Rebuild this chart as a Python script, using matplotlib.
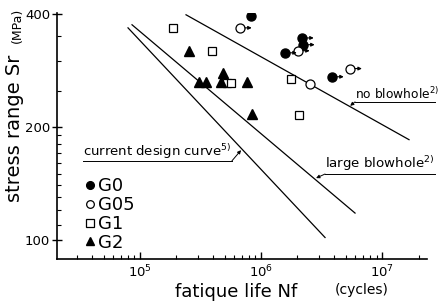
import numpy as np
import matplotlib
matplotlib.use("Agg")
import matplotlib.pyplot as plt
from matplotlib.ticker import FixedLocator, NullFormatter, LogLocator

# data (N in cycles, Sr in MPa)
g0_n = [8.26e5, 2.18e6, 2.22e6, 1.58e6, 3.86e6]
g0_s = [395, 345, 331, 315, 272]
g0_runout = [False, True, True, True, True]

g05_n = [6.70e5, 2.02e6, 5.45e6, 2.54e6]
g05_s = [367, 319, 286, 260]
g05_runout = [True, True, True, False]

g1_n = [1.87e5, 3.94e5, 5.24e5, 5.65e5, 1.77e6, 2.06e6]
g1_s = [367, 319, 262, 262, 268, 215]

g2_n = [2.54e5, 3.08e5, 3.51e5, 4.67e5, 4.85e5, 7.66e5, 8.43e5]
g2_s = [319, 264, 264, 264, 279, 264, 217]

# S-N lines (end points)
no_blow_n = [2.40e5, 1.67e7]
no_blow_s = [397.6, 185]
large_blow_n = [8.59e4, 5.98e6]
large_blow_s = [374, 118]
design_n = [7.96e4, 3.38e6]
design_s = [367, 101.6]

fig = plt.figure(figsize=(4.45, 3.02), dpi=100)
ax = fig.add_axes([0.128, 0.142, 0.832, 0.815])

ax.set_xscale('log')
ax.set_yscale('log')
ax.set_xlim(2.06e4, 2.36e7)
ax.set_ylim(89, 402)

lw = 0.9
ax.plot(no_blow_n, no_blow_s, 'k-', lw=lw)
ax.plot(large_blow_n, large_blow_s, 'k-', lw=lw)
ax.plot(design_n, design_s, 'k-', lw=lw)

ax.plot(g0_n, g0_s, 'o', color='k', ms=6.5, ls='none', label='G0', zorder=3)
ax.plot(g05_n, g05_s, 'o', mfc='white', mec='k', mew=0.9, ms=6.5, ls='none', label='G05', zorder=3)
ax.plot(g1_n, g1_s, 's', mfc='white', mec='k', mew=0.9, ms=6, ls='none', label='G1', zorder=3)
ax.plot(g2_n, g2_s, '^', color='k', ms=7, ls='none', label='G2', zorder=3)

# run-out arrows
for n, s, r in list(zip(g0_n, g0_s, g0_runout)) + list(zip(g05_n, g05_s, g05_runout)):
    if r:
        ax.annotate('', xy=(n * 1.25, s), xytext=(n, s),
                    arrowprops=dict(arrowstyle='-|>', lw=0.8, color='k',
                                    shrinkA=3.5, shrinkB=0, mutation_scale=5))

# labels of the lines
ax.text(5.98e6, 237.6, 'no blowhole$^{2)}$', fontsize=8.8, va='baseline', ha='left')
ax.plot([5.98e6, 2.74e7], [233.2, 233.2], 'k-', lw=0.7, clip_on=False)
ax.annotate('', xy=(5.45e6, 227.6), xytext=(5.98e6, 233.2),
            arrowprops=dict(arrowstyle='-|>', lw=0.7, color='k', shrinkA=0, shrinkB=0,
                            mutation_scale=5))

ax.text(3.38e6, 155.4, 'large blowhole$^{2)}$', fontsize=9.6, va='baseline', ha='left')
ax.plot([3.38e6, 2.74e7], [149.9, 149.9], 'k-', lw=0.7, clip_on=False)
ax.annotate('', xy=(2.85e6, 146.2), xytext=(3.38e6, 149.9),
            arrowprops=dict(arrowstyle='-|>', lw=0.7, color='k', shrinkA=0, shrinkB=0,
                            mutation_scale=5))

ax.text(3.38e4, 167, 'current design curve$^{5)}$', fontsize=9.5, va='baseline', ha='left')
ax.plot([3.38e4, 5.75e5], [162.5, 162.5], 'k-', lw=0.7)
ax.annotate('', xy=(6.84e5, 173.5), xytext=(5.75e5, 162.5),
            arrowprops=dict(arrowstyle='-|>', lw=0.7, color='k', shrinkA=0, shrinkB=0,
                            mutation_scale=5))

# axes look
for side in ['top', 'right']:
    ax.spines[side].set_visible(False)
ax.spines['left'].set_linewidth(1.2)
ax.spines['bottom'].set_linewidth(1.2)

ax.yaxis.set_major_locator(FixedLocator([100, 200, 400]))
ax.yaxis.set_major_formatter(plt.FixedFormatter(['100', '200', '400']))
ax.yaxis.set_minor_locator(FixedLocator([110, 120, 130, 140, 150, 160, 170, 180, 190, 250, 300, 350]))
ax.yaxis.set_minor_formatter(NullFormatter())
ax.xaxis.set_major_locator(LogLocator(base=10, numticks=10))
ax.xaxis.set_minor_locator(LogLocator(base=10, subs=np.arange(2, 10), numticks=20))
ax.xaxis.set_minor_formatter(NullFormatter())
ax.tick_params(which='major', direction='inout', length=7, width=1, labelsize=9.5)
ax.tick_params(axis='y', which='major', pad=1.5)
ax.tick_params(which='minor', direction='in', length=3, width=0.8)
ax.tick_params(axis='x', which='major', direction='in', length=5, pad=3)

ax.legend(loc='lower left', bbox_to_anchor=(0.075, 0.03), frameon=False,
          fontsize=13, handlelength=0.6, handletextpad=0.15, labelspacing=0.05,
          borderpad=0, borderaxespad=0, markerscale=0.85)

fig.text(0.033, 0.575, 'stress range Sr', rotation=90, fontsize=14, ha='center', va='center')
fig.text(0.040, 0.915, '(MPa)', rotation=90, fontsize=9, ha='center', va='center')
fig.text(0.53, 0.033, 'fatique life Nf', fontsize=13, ha='center', va='center')
fig.text(0.812, 0.04, '(cycles)', fontsize=10, ha='center', va='center')

fig.savefig('out.png', dpi=100)
